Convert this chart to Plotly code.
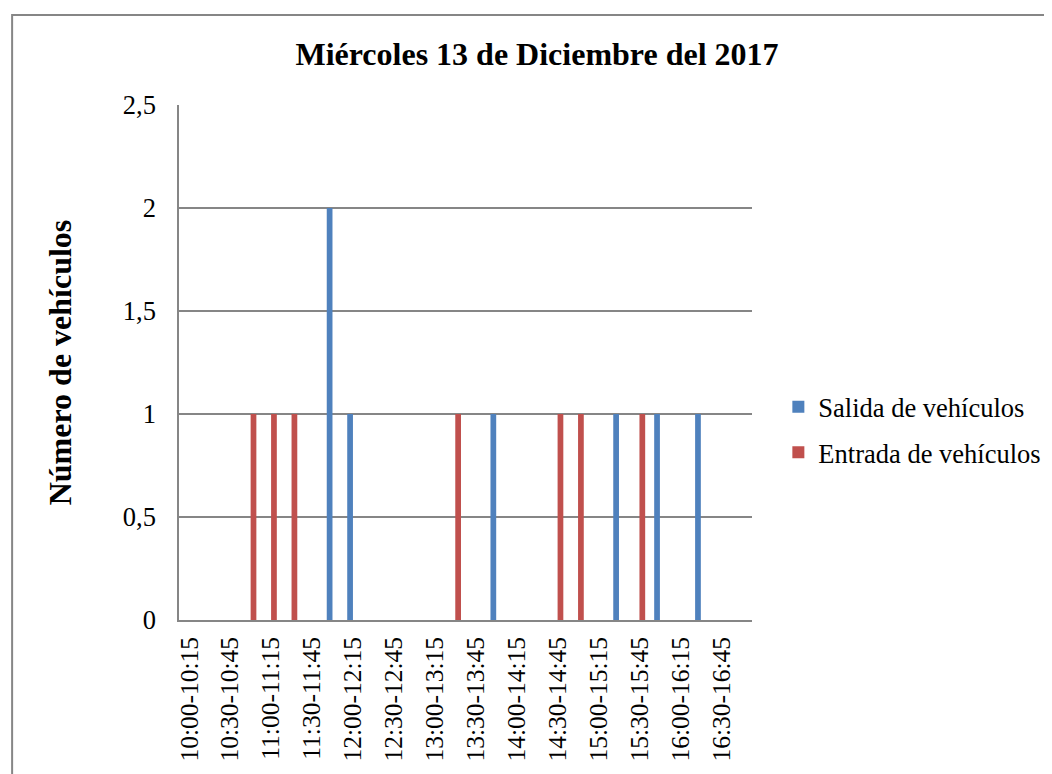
import plotly.graph_objects as go

categories = [
    "10:00-10:15", "10:15-10:30", "10:30-10:45", "10:45-11:00",
    "11:00-11:15", "11:15-11:30", "11:30-11:45", "11:45-12:00",
    "12:00-12:15", "12:15-12:30", "12:30-12:45", "12:45-13:00",
    "13:00-13:15", "13:15-13:30", "13:30-13:45", "13:45-14:00",
    "14:00-14:15", "14:15-14:30", "14:30-14:45", "14:45-15:00",
    "15:00-15:15", "15:15-15:30", "15:30-15:45", "15:45-16:00",
    "16:00-16:15", "16:15-16:30", "16:30-16:45", "16:45-17:00",
]
salida = [0, 0, 0, 0, 0, 0, 0, 2, 1, 0, 0, 0, 0, 0,
          0, 1, 0, 0, 0, 0, 0, 1, 0, 1, 0, 1, 0, 0]
entrada = [0, 0, 0, 1, 1, 1, 0, 0, 0, 0, 0, 0, 0, 1,
           0, 0, 0, 0, 1, 1, 0, 0, 1, 0, 0, 0, 0, 0]
shown_ticks = categories[::2]
y_tickvals = [0, 0.5, 1, 1.5, 2, 2.5]
y_ticktext = ["0", "0,5", "1", "1,5", "2", "2,5"]

title_text = "Miércoles 13 de Diciembre del 2017"
y_title = "Número de vehículos"

FONT = "Liberation Serif, Times New Roman, serif"
GRID = "#868686"

# page body has an 8px margin -> compensate
OFF = 8
L, T, PW, PH = 179 - OFF, 105 - OFF, 573.4, 515

fig = go.Figure()
fig.add_trace(go.Bar(x=categories, y=salida, name="Salida de vehículos",
                     marker=dict(color="#4F81BD", line=dict(width=0)),
                     legendgroup="s"))
fig.add_trace(go.Bar(x=categories, y=entrada, name="Entrada de vehículos",
                     marker=dict(color="#C0504D", line=dict(width=0)),
                     legendgroup="e"))

fig.update_layout(
    width=1052, height=774,
    margin=dict(l=L, r=1052 - L - PW, t=T, b=774 - T - PH, autoexpand=False),
    paper_bgcolor="white", plot_bgcolor="white",
    font=dict(family=FONT, color="black", size=26),
    barmode="group", bargap=0.44, bargroupgap=0.0,
    title=dict(text="<b>" + title_text + "</b>", font=dict(size=32, family=FONT),
               x=(537 - OFF) / 1052, xanchor="center", xref="container",
               y=1 - (54 - OFF) / 774, yanchor="middle", yref="container"),
    legend=dict(x=1.046, xanchor="left", y=0.46, yanchor="top",
                font=dict(size=26.5, family=FONT), tracegroupgap=8,
                traceorder="grouped", bgcolor="rgba(0,0,0,0)"),
    showlegend=True,
)

fig.update_xaxes(
    type="category", categoryorder="array", categoryarray=categories,
    tickmode="array", tickvals=shown_ticks, ticktext=shown_ticks,
    tickangle=-90, tickfont=dict(size=25.5, family=FONT),
    showgrid=False, showline=True, linecolor=GRID, linewidth=1.5,
    ticks="", ticklabelstandoff=5, automargin=False,
)
fig.update_yaxes(
    range=[0, 2.5], tickmode="array", tickvals=y_tickvals, ticktext=y_ticktext,
    tickfont=dict(size=26.5, family=FONT),
    showgrid=True, gridcolor=GRID, gridwidth=1.5,
    showline=True, linecolor=GRID, linewidth=1.5,
    zeroline=False, ticks="", ticklabelstandoff=16, automargin=False,
    title=dict(text="<b>" + y_title + "</b>", font=dict(size=32, family=FONT),
               standoff=42),
)

# outer chart border
fig.add_shape(type="rect", xref="paper", yref="paper",
              x0=(12 - 179) / PW, x1=(1070 - 179) / PW,
              y0=-(800 - 620) / PH, y1=1 + (105 - 15) / PH,
              line=dict(color="#868686", width=2), fillcolor="rgba(0,0,0,0)",
              layer="below")

fig.write_html("out.html")
